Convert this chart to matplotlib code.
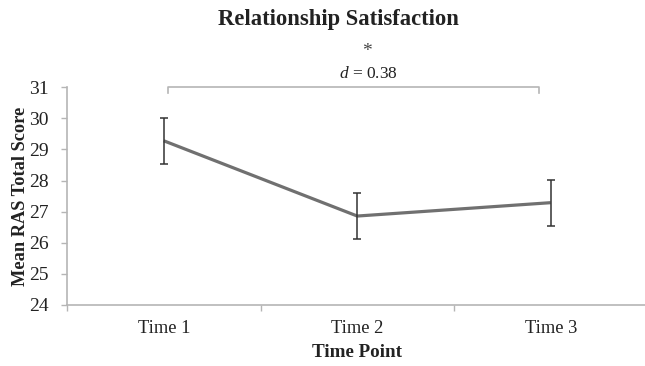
import numpy as np
import matplotlib.pyplot as plt

# data
time_labels = ["Time 1", "Time 2", "Time 3"]
mean_score = [29.28, 26.86, 27.29]
err = [0.74, 0.75, 0.74]
bracket_x = [1.02, 2.94]
bracket_y = 31.0
effect_text = "$d$ = 0.38"

plt.rcParams["font.family"] = ["Liberation Serif", "DejaVu Serif"]
plt.rcParams["mathtext.fontset"] = "custom"
plt.rcParams["mathtext.it"] = "Liberation Serif:italic"
plt.rcParams["mathtext.rm"] = "Liberation Serif"

fig = plt.figure(figsize=(6.45, 3.66), dpi=100)
ax = fig.add_axes([0.1039, 0.1667, 0.9, 0.5948])

x = np.arange(1, len(time_labels) + 1)
ax.plot(x, mean_score, color="#707070", lw=2.3, solid_capstyle="butt", zorder=3)
ax.errorbar(x, mean_score, yerr=err, fmt="none", ecolor="#333333",
            elinewidth=1.1, capsize=3.2, capthick=1.1, zorder=4)

# significance bracket
grey = "#b5b5b5"
ax.plot([bracket_x[0], bracket_x[0], bracket_x[1], bracket_x[1]],
        [bracket_y - 0.17, bracket_y, bracket_y, bracket_y - 0.17],
        color=grey, lw=1.2, clip_on=False)

ax.set_xlim(0.5, 3.5)
ax.set_ylim(24, 31)
ax.set_yticks(range(24, 32))
ax.set_xticks(x)
ax.set_xticklabels(time_labels)
ax.set_xticks([0.5, 1.5, 2.5, 3.5], minor=True)
ax.tick_params(axis="x", which="major", length=0, pad=11, labelsize=13.3, colors="#222222")
ax.tick_params(axis="x", which="minor", length=4, color=grey, width=1)
ax.tick_params(axis="y", length=4, color=grey, width=1, pad=9, labelsize=14, labelcolor="#222222")

for s in ["top", "right"]:
    ax.spines[s].set_visible(False)
for s in ["left", "bottom"]:
    ax.spines[s].set_color(grey)
    ax.spines[s].set_linewidth(1.2)

ax.set_xlabel("Time Point", fontsize=13.7, fontweight="bold", labelpad=5, color="#222222")
ax.set_ylabel("Mean RAS Total Score", fontsize=13.2, fontweight="bold", labelpad=0, color="#222222")

fig.text(338 / 645, 1 - 20 / 366, "Relationship Satisfaction", ha="center", va="center",
         fontsize=16.3, fontweight="bold", color="#222222")
fig.text(367 / 645, 1 - 51 / 366, "*", ha="center", va="center", fontsize=14, color="#444444")
fig.text(368 / 645, 1 - 74 / 366, effect_text, ha="center", va="center", fontsize=12.5, color="#222222")

fig.savefig("out.png", dpi=100)
